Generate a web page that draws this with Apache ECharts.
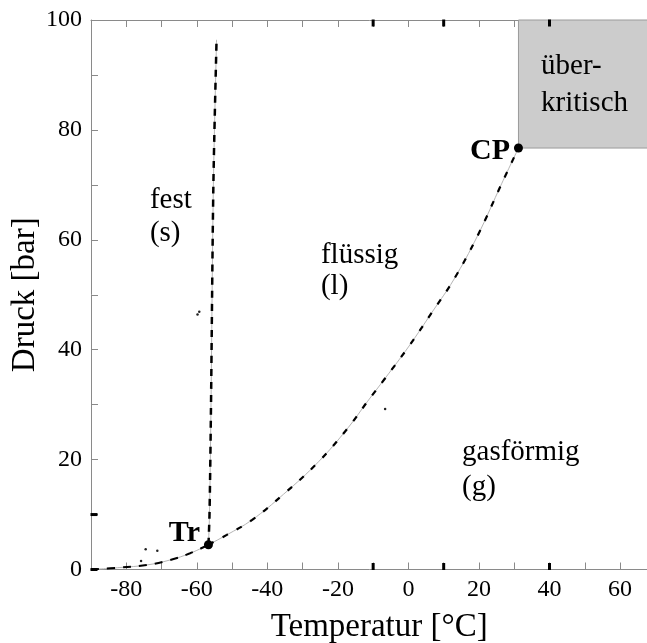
<!DOCTYPE html>
<html>
<head>
<meta charset="utf-8">
<script src="https://cdn.jsdelivr.net/npm/echarts@6/dist/echarts.min.js"></script>
<style>
  html, body { margin: 0; padding: 0; background: #fff; }
  #chart { width: 647px; height: 643px; }
</style>
</head>
<body>
<div id="chart"></div>
<script>
// Phasendiagramm CO2: Sublimations-, Schmelz- und Dampfdruckkurve
const sublimationT = [-90, -81.8, -74.2, -67.6, -61.9, -56.7];
const sublimationP = [0, 0.36, 0.82, 1.73, 2.95, 4.5];

const meltingT = [-56.7, -56.4, -56.0, -55.3, -54.4];
const meltingP = [4.5, 10, 28.5, 70, 96.4];

const vaporT = [-56.7, -51.5, -44.4, -35.4, -25.5, -17.1, -11.7, -6.6, 0.0, 7.1, 12.8, 19.5, 26.5, 31.2];
const vaporP = [4.5, 6.3, 9.0, 13.7, 19.6, 25.8, 30.5, 34.8, 40.5, 47.2, 52.7, 60.6, 70.3, 76.7];

const pointNames = ['Tr', 'CP'];
const pointT = [-56.7, 31.2];
const pointP = [4.5, 76.7];

// kleine Punkte im Diagramm
const dotT = [-74.5, -71.2, -75.8, -59.3, -59.8, -6.6];
const dotP = [3.7, 3.4, 1.55, 46.9, 46.4, 29.2];

const xTickLabels = [-80, -60, -40, -20, 0, 20, 40, 60];
const yTickLabels = [0, 20, 40, 60, 80, 100];

// kräftige Teilstriche an den Achsen
const boldTicksT = [-10, 10, 40];
const boldTicksP = [0, 10];

// Beschriftung der Phasengebiete (Ankerpunkte im Temperatur/Druck-Raster)
const regionText = ['fest', '(s)', 'flüssig', '(l)', 'gasförmig', '(g)', 'über-', 'kritisch'];
const regionAnchor = [[-73.3, 67.2], [-73.3, 61.1], [-24.8, 57.1], [-24.8, 51.5],
                      [15.2, 21.4], [15.2, 15.0], [37.6, 91.5], [37.6, 84.9]];

const X_MIN = -90, X_MAX = 70, Y_MIN = 0, Y_MAX = 100;

const zip = (a, b) => a.map((v, i) => [v, b[i]]);
const serif = "'Liberation Serif', 'Times New Roman', serif";
const axisGray = '#8a8a8a';

const chart = echarts.init(document.getElementById('chart'), null, { renderer: 'canvas' });

const grayLine = { show: true, onZero: false, lineStyle: { color: axisGray, width: 1 } };
const baseX = {
  type: 'value', min: X_MIN, max: X_MAX, interval: 10,
  splitLine: { show: false },
  axisLine: grayLine,
  axisTick: { show: true, inside: true, length: 7, lineStyle: { color: axisGray } }
};
const baseY = {
  type: 'value', min: Y_MIN, max: Y_MAX, interval: 10,
  splitLine: { show: false },
  axisLine: grayLine,
  axisTick: { show: true, inside: true, length: 7, lineStyle: { color: axisGray } }
};

const curveGray = { color: '#b5b5b5', width: 1 };

// kräftige Striche als kleine Rechtecke auf dem Rahmen
const tickMarks = [];
boldTicksT.forEach(v => {
  tickMarks.push({ value: [v, Y_MIN], symbolSize: [3, 7], symbolOffset: [0, -3] });
  tickMarks.push({ value: [v, Y_MAX], symbolSize: [3, 7], symbolOffset: [0, 3] });
});
boldTicksP.forEach(v => {
  tickMarks.push({ value: [X_MIN, v], symbolSize: [7, 3], symbolOffset: [3, 0] });
});

chart.setOption({
  animation: false,
  backgroundColor: '#ffffff',
  grid: { left: 91, top: 20, right: -8.3, bottom: 73.5, containLabel: false, outerBoundsMode: 'none' },
  xAxis: [
    Object.assign({}, baseX, {
      position: 'bottom',
      name: 'Temperatur [°C]', nameLocation: 'middle', nameGap: 41, nameMoveOverlap: false,
      nameTextStyle: { fontFamily: serif, fontSize: 33, color: '#000', padding: [0, 0, 0, 12] },
      axisLabel: {
        show: true, margin: 8, fontFamily: serif, fontSize: 24, color: '#000',
        formatter: v => (xTickLabels.indexOf(v) >= 0 ? String(v) : '')
      }
    }),
    Object.assign({}, baseX, { position: 'top', axisLabel: { show: false } })
  ],
  yAxis: [
    Object.assign({}, baseY, {
      position: 'left',
      name: 'Druck [bar]', nameLocation: 'middle', nameGap: 49, nameMoveOverlap: false,
      nameTextStyle: { fontFamily: serif, fontSize: 33, color: '#000' },
      axisLabel: {
        show: true, margin: 9, fontFamily: serif, fontSize: 24, color: '#000',
        formatter: v => (yTickLabels.indexOf(v) >= 0 ? String(v) : '')
      }
    }),
    Object.assign({}, baseY, { position: 'right', axisLabel: { show: false } })
  ],
  series: [
    {
      name: 'überkritisch', type: 'line', data: [], silent: true,
      markArea: {
        silent: true,
        itemStyle: { color: '#cccccc', borderColor: '#9a9a9a', borderWidth: 1, opacity: 1 },
        data: [[{ coord: [pointT[1], pointP[1]] }, { coord: [X_MAX, Y_MAX] }]]
      }
    },
    { name: 'Sublimation', type: 'line', data: zip(sublimationT, sublimationP), smooth: 0.4, showSymbol: false, lineStyle: curveGray },
    { name: 'Sublimation', type: 'line', data: zip(sublimationT, sublimationP), smooth: 0.4, showSymbol: false,
      lineStyle: { color: '#000', width: 2, type: [8, 8] } },
    { name: 'Schmelzen', type: 'line', data: zip(meltingT, meltingP), smooth: 0.3, showSymbol: false, lineStyle: curveGray },
    { name: 'Schmelzen', type: 'line', data: zip(meltingT, meltingP), smooth: 0.3, showSymbol: false,
      lineStyle: { color: '#000', width: 2.5, type: [7, 6] } },
    { name: 'Verdampfen', type: 'line', data: zip(vaporT, vaporP), smooth: 0.4, showSymbol: false, lineStyle: curveGray },
    { name: 'Verdampfen', type: 'line', data: zip(vaporT, vaporP), smooth: 0.4, showSymbol: false,
      lineStyle: { color: '#000', width: 2.2, type: [6, 10] } },
    {
      name: 'Teilstriche', type: 'scatter', symbol: 'rect', silent: true, clip: false,
      itemStyle: { color: '#000', opacity: 1 }, data: tickMarks, z: 20, zlevel: 1
    },
    {
      name: 'Punkte', type: 'scatter', symbol: 'circle', symbolSize: 9,
      itemStyle: { color: '#000', opacity: 1 },
      data: pointNames.map((n, i) => ({ name: n, value: [pointT[i], pointP[i]] })),
      label: {
        show: true, position: 'left', distance: 4, formatter: p => p.name,
        fontFamily: serif, fontSize: 30, fontWeight: 'bold', color: '#000', textBorderWidth: 0
      },
      labelLayout: p => (p.dataIndex === 0 ? { dy: -12 } : { dy: 3 }),
      z: 5
    },
    {
      name: 'Punktchen', type: 'scatter', symbol: 'circle', symbolSize: 2.5,
      itemStyle: { color: '#222', opacity: 1 }, data: zip(dotT, dotP), silent: true
    },
    {
      name: 'Gebiete', type: 'scatter', symbolSize: 0, silent: true,
      itemStyle: { opacity: 1 },
      data: regionText.map((t, i) => ({ name: t, value: regionAnchor[i] })),
      label: {
        show: true, position: [0, 0], align: 'left', verticalAlign: 'middle',
        formatter: p => p.name, fontFamily: serif, fontSize: 29, color: '#000', textBorderWidth: 0
      },
      z: 6
    }
  ]
});
</script>
</body>
</html>
